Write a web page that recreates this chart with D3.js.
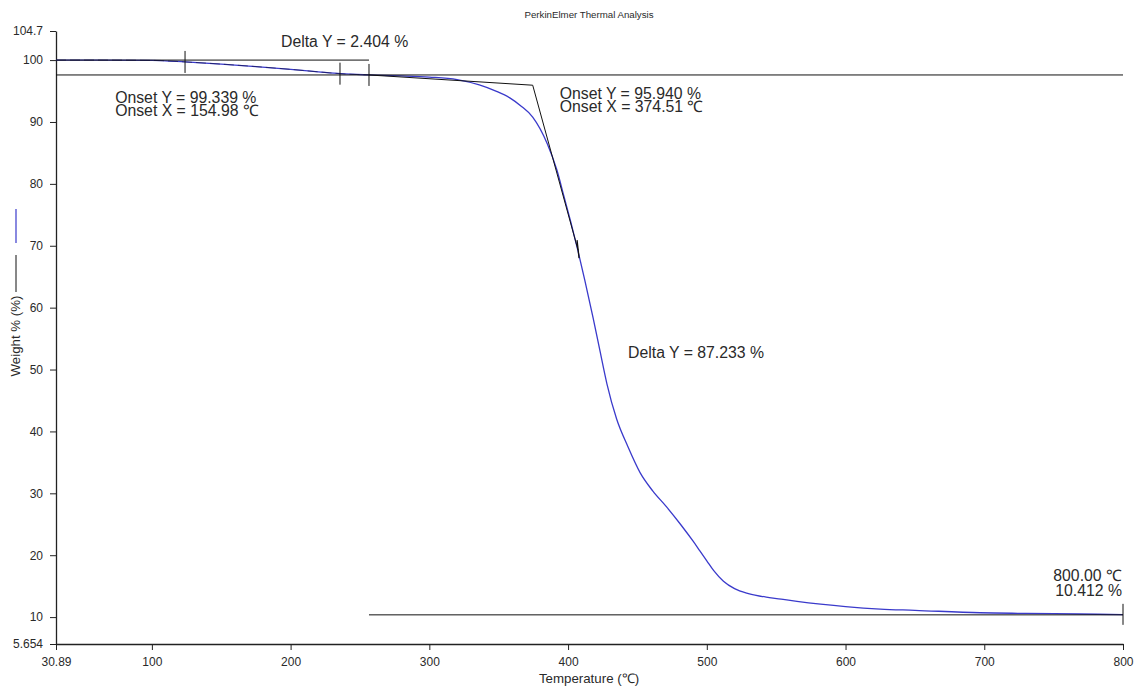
<!DOCTYPE html>
<html>
<head>
<meta charset="utf-8">
<script src="https://cdn.jsdelivr.net/npm/d3@7"></script>
<style>
  html, body { margin: 0; padding: 0; background: #fff; }
  svg { display: block; }
  text { font-family: "Liberation Sans", Arial, sans-serif; fill: #2a2a2a; }
</style>
</head>
<body>
<svg id="chart" width="1142" height="690"></svg>
<script>
// ---- data ----
const temps = [30.89, 60, 100, 124, 150, 175, 200, 220, 236, 256.5, 280, 300, 320, 336, 348, 358, 366, 374.5,
  385, 392, 397, 402, 407, 412, 418, 423, 428, 435, 443, 452, 461, 471, 481, 490, 495, 500, 505, 512, 520,
  530, 545, 555, 565, 582, 600, 625, 650, 697, 730, 769, 800];
const weights = [100.0, 100.0, 99.95, 99.7, 99.35, 98.95, 98.5, 98.1, 97.8, 97.6, 97.45, 97.25, 96.85, 96.0,
  95.0, 93.9, 92.6, 90.8, 86.5, 82.2, 78.0, 73.8, 69.3, 64.5, 58.4, 53.0, 47.7, 42.0, 37.6, 33.3, 30.4,
  27.8, 25.0, 22.3, 20.7, 19.1, 17.5, 15.8, 14.6, 13.8, 13.15, 12.85, 12.55, 12.1, 11.7, 11.3, 11.1, 10.7,
  10.6, 10.5, 10.41];

const xTicks = [30.89, 100, 200, 300, 400, 500, 600, 700, 800];
const xTickLabels = ["30.89", "100", "200", "300", "400", "500", "600", "700", "800"];
const yTicks = [5.654, 10, 20, 30, 40, 50, 60, 70, 80, 90, 100, 104.7];
const yTickLabels = ["5.654", "10", "20", "30", "40", "50", "60", "70", "80", "90", "100", "104.7"];

// step 1 (Delta Y = 2.404 %)
const step1Levels = [100.0, 97.596];
const step1End = 256.5;
const step1Marks = [123.9, 235.6, 256.5];
const onset1 = [154.98, 99.339];
// step 2 (onset 374.51 / Delta Y = 87.233 %)
const onset2 = [374.51, 95.940];
const tangent2End = [407.2, 69.3];
const step2Bottom = 10.363;
const endPoint = [800.00, 10.412];

const titleText = "PerkinElmer Thermal Analysis";
const xTitle = "Temperature (\u2103)";
const yTitle = "Weight % (%)";
const labelDelta1 = "Delta Y = 2.404 %";
const labelOnset1 = ["Onset Y = 99.339 %", "Onset X = 154.98 \u2103"];
const labelOnset2 = ["Onset Y = 95.940 %", "Onset X = 374.51 \u2103"];
const labelDelta2 = "Delta Y = 87.233 %";
const labelEnd = ["800.00 \u2103", "10.412 %"];

// ---- drawing ----
const svg = d3.select("#chart");
const x = d3.scaleLinear().domain([30.89, 800]).range([56, 1123]);
const y = d3.scaleLinear().domain([5.654, 104.7]).range([644, 31]);

const ink = "#111";
const curveColor = "#3a3acb";

// axes
const xAxis = d3.axisBottom(x).tickValues(xTicks).tickSize(6).tickSizeOuter(0).tickPadding(7)
  .tickFormat((d, i) => xTickLabels[i]);
const yAxis = d3.axisLeft(y).tickValues(yTicks).tickSize(6).tickSizeOuter(0).tickPadding(7)
  .tickFormat((d, i) => yTickLabels[i]);

const gx = svg.append("g").attr("transform", `translate(0,${y(5.654)})`).call(xAxis);
const gy = svg.append("g").attr("transform", `translate(${x(30.89)},0)`).call(yAxis);
[gx, gy].forEach(g => {
  g.select(".domain").attr("stroke", "#222").attr("stroke-width", 1.3);
  g.selectAll(".tick line").attr("stroke", "#222");
  g.selectAll(".tick text").style("font-size", "12px").attr("fill", "#333");
});

// title
svg.append("text").attr("x", 589).attr("y", 18).attr("text-anchor", "middle")
  .style("font-size", "9.7px").text(titleText);

// x title
svg.append("text").attr("x", 589).attr("y", 683).attr("text-anchor", "middle")
  .style("font-size", "13.3px").text(xTitle);

// y title with legend lines
svg.append("text").attr("transform", "translate(20,336) rotate(-90)").attr("text-anchor", "middle")
  .style("font-size", "13.3px").text(yTitle);
svg.append("line").attr("x1", 16).attr("x2", 16).attr("y1", 255).attr("y2", 292)
  .attr("stroke", ink).attr("stroke-width", 1);
svg.append("line").attr("x1", 16).attr("x2", 16).attr("y1", 209).attr("y2", 243)
  .attr("stroke", curveColor).attr("stroke-width", 1.2);

// data curve
const pts = temps.map((t, i) => [t, weights[i]]);
const line = d3.line().x(d => x(d[0])).y(d => y(d[1])).curve(d3.curveMonotoneX);
svg.append("path").attr("d", line(pts)).attr("fill", "none")
  .attr("stroke", curveColor).attr("stroke-width", 1.3);

// darker overlay on the first step (tangent segments drawn on the curve)
svg.append("path").attr("d", line(pts.filter(p => p[0] <= step1End))).attr("fill", "none")
  .attr("stroke", "#101040").attr("stroke-width", 1).attr("stroke-opacity", 0.6)
  .attr("stroke-dasharray", "10,4");

// annotation lines
const seg = (x1, y1, x2, y2, w = 1) => svg.append("line")
  .attr("x1", x1).attr("y1", y1).attr("x2", x2).attr("y2", y2)
  .attr("stroke", ink).attr("stroke-width", w);

// Delta Y 1: top level and bottom level (bottom level extends as step-2 baseline)
seg(x(30.89), y(step1Levels[0]), x(step1End), y(step1Levels[0]));
seg(x(30.89), y(step1Levels[1]), x(800), y(step1Levels[1]));

// step-1 markers on the curve
const curveAt = t => {
  const i = d3.bisectLeft(temps, t);
  if (i <= 0) return weights[0];
  if (i >= temps.length) return weights[weights.length - 1];
  const t0 = temps[i - 1], t1 = temps[i];
  return weights[i - 1] + (weights[i] - weights[i - 1]) * (t - t0) / (t1 - t0);
};
step1Marks.forEach(t => {
  const cy = y(curveAt(t));
  seg(x(t), cy - 11, x(t), cy + 11);
});

// onset 2 tangents
seg(x(step1End), y(step1Levels[1]), x(onset2[0]), y(onset2[1]));
seg(x(onset2[0]), y(onset2[1]), x(tangent2End[0]), y(tangent2End[1]));
seg(x(tangent2End[0]) - 1, y(tangent2End[1]) - 10, x(tangent2End[0]) + 1, y(tangent2End[1]) + 8, 1.3);

// Delta Y 2 bottom line and end marker
seg(x(step1End), y(step2Bottom), x(endPoint[0]), y(step2Bottom));
seg(x(endPoint[0]), y(step2Bottom) - 11, x(endPoint[0]), y(step2Bottom) + 10);

// annotation texts (multi-line labels as one text element with tspans)
const ann = (tx, ty, lines, anchor = "start", lh = 12.5) => {
  const t = svg.append("text").attr("text-anchor", anchor).style("font-size", "15.8px");
  [].concat(lines).forEach((s, i) => {
    t.append("tspan").attr("x", tx).attr("y", ty + i * lh).text(s);
  });
  return t;
};

ann(x(step1End) - 88, y(step1Levels[0]) - 13, labelDelta1);
ann(x(onset1[0]) - 113, y(onset1[1]) + 39, labelOnset1);
ann(x(onset2[0]) + 27, y(onset2[1]) + 14, labelOnset2, "start", 13);
ann(x(tangent2End[0]) + 50, y((step1Levels[1] + step2Bottom) / 2) + 13, labelDelta2);
ann(x(endPoint[0]) - 1, y(endPoint[1]) - 34, labelEnd, "end", 15);
</script>
</body>
</html>
